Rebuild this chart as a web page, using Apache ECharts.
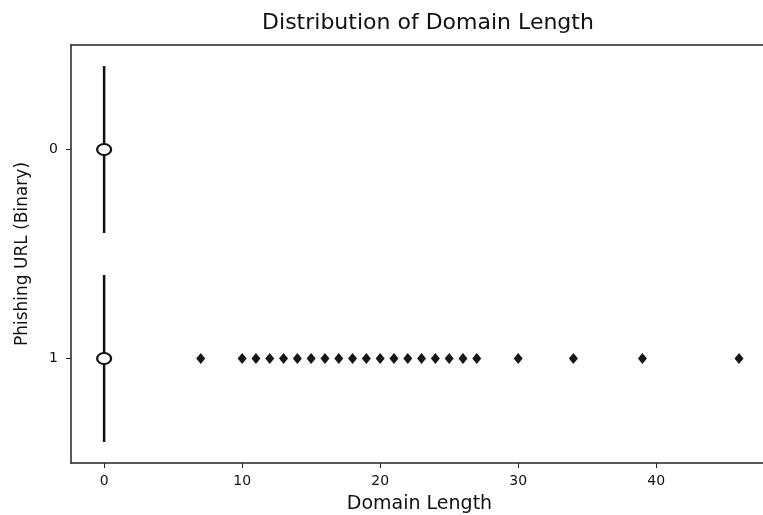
<!DOCTYPE html>
<html lang="en">
<head>
	<meta charset="UTF-8">
	<title>Distribution of Domain Length</title>
	<script src="https://cdn.jsdelivr.net/npm/echarts@6/dist/echarts.min.js"></script>
	<style>
		* {
			margin: 0;
			padding: 0;
		}
		#container {
			width: 763px;
			height: 515px;
			background: #fff;
		}
	</style>
</head>
<body>
<div id="container"></div>
<script type="text/javascript">
	// categories on the y axis (0 = legit, 1 = phishing)
	var categories = ['0', '1'];
	// box stats [min, Q1, median, Q3, max] per category
	var boxStats = [
		[0, 0, 0, 0, 0],
		[0, 0, 0, 0, 0]
	];
	var medians = [0, 0];
	// outliers for category 1
	var outliers1 = [7, 10, 11, 12, 13, 14, 15, 16, 17, 18, 19, 20, 21, 22, 23, 24, 25, 26, 27, 30, 34, 39, 46];
	var xTicks = [0, 10, 20, 30, 40];

	var myChart = echarts.init(document.getElementById('container'));

	var font = 'DejaVu Sans';
	var medianData = medians.map(function (v, i) { return [v, categories[i]]; });
	var outlierData = outliers1.map(function (v) { return [v, '1']; });

	var option = {
		animation: false,
		title: {
			text: 'Distribution of Domain Length',
			left: 423,
			textAlign: 'center',
			top: 7,
			textStyle: {fontFamily: font, fontSize: 22, fontWeight: 'normal', color: '#111'}
		},
		grid: {
			left: 71,
			right: -5,
			top: 45,
			bottom: 52,
			containLabel: false,
			outerBoundsMode: 'none'
		},
		xAxis: [{
			type: 'value',
			min: -2.4,
			max: 48.1,
			name: 'Domain Length',
			nameLocation: 'middle',
			nameGap: 32,
			nameTextStyle: {fontFamily: font, fontSize: 19, color: '#111'},
			splitLine: {show: false},
			axisLine: {show: true, onZero: false, lineStyle: {color: '#222', width: 1.5}},
			axisTick: {show: true, length: 5, customValues: xTicks, lineStyle: {color: '#222'}},
			axisLabel: {customValues: xTicks, fontFamily: font, fontSize: 14, color: '#111', margin: 11}
		}, {
			// top frame line only
			type: 'value',
			position: 'top',
			min: -2.4,
			max: 48.1,
			splitLine: {show: false},
			axisLine: {show: true, onZero: false, lineStyle: {color: '#222', width: 1.5}},
			axisTick: {show: false},
			axisLabel: {show: false}
		}],
		yAxis: {
			type: 'category',
			data: categories,
			inverse: true,
			name: 'Phishing URL (Binary)',
			nameLocation: 'middle',
			nameGap: 40,
			nameTextStyle: {fontFamily: font, fontSize: 17, color: '#111'},
			axisLine: {show: true, onZero: false, lineStyle: {color: '#222', width: 1.5}},
			axisTick: {show: true, alignWithLabel: true, length: 5, lineStyle: {color: '#222'}},
			axisLabel: {fontFamily: font, fontSize: 14, color: '#111', margin: 13},
			splitLine: {show: false}
		},
		series: [
			{
				type: 'boxplot',
				data: boxStats,
				boxWidth: ['80%', '80%'],
				itemStyle: {color: '#fff', borderColor: '#111', borderWidth: 2.5}
			},
			{
				type: 'scatter',
				data: medianData,
				symbol: 'circle',
				symbolSize: [14, 11],
				itemStyle: {color: '#fff', borderColor: '#111', borderWidth: 2, opacity: 1},
				z: 5
			},
			{
				type: 'scatter',
				data: outlierData,
				symbol: 'diamond',
				symbolSize: [9, 11],
				itemStyle: {color: '#161616', opacity: 1},
				z: 5
			}
		]
	};

	myChart.setOption(option);
</script>
</body>
</html>
